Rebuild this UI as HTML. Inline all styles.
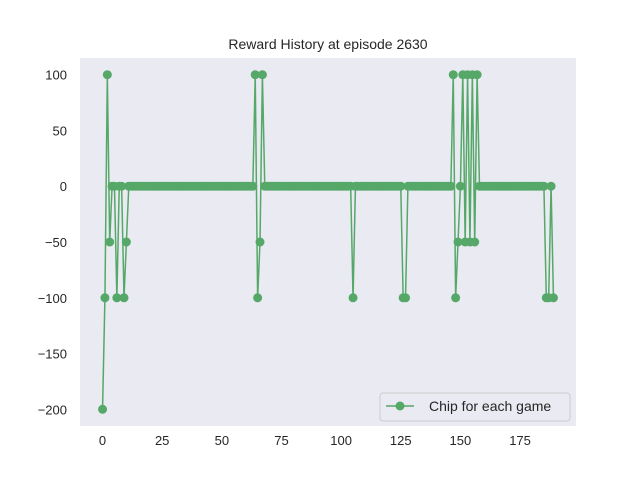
<!DOCTYPE html>
<html><head><meta charset="utf-8"><style>
body{margin:0;background:#fff;}
svg text{font-family:"Liberation Sans","DejaVu Sans",sans-serif;fill:#262626;}
</style></head><body>
<svg id="chart" width="640" height="480" viewBox="0 0 640 480">
<rect x="0" y="0" width="640" height="480" fill="#fff"/>
<rect x="80" y="58" width="496" height="368" fill="#eaeaf2"/>
<text x="328" y="49" font-size="14" text-anchor="middle">Reward History at episode 2630</text>
<g id="xticks"></g>
<g id="yticks"></g>
<g id="series"></g>
<g>
<rect x="380" y="393" width="190" height="28" rx="3" fill="#eaeaf2" stroke="#cccccc"/>
<line x1="386" y1="406" x2="414" y2="406" stroke="#55a868" stroke-width="1.5"/>
<circle cx="400" cy="406" r="4.5" fill="#55a868"/>
<text x="429" y="411" font-size="14">Chip for each game</text>
</g>
</svg>
<script>
const rewards = [-200,-100,100,-50,0,0,-100,0,0,-100,-50];
const xTickValues = [0,25,50,75,100,125,150,175];
const yTickValues = [100,50,0,-50,-100,-150,-200];
// fill remaining episodes with events
const events = {64:100,65:-100,66:-50,67:100,105:-100,126:-100,127:-100,147:100,148:-100,149:-50,151:100,152:-50,153:100,154:-50,155:100,156:-50,157:100,186:-100,187:-100,189:-100};
const nPoints = 190;
const data = [];
for (let i=0;i<nPoints;i++){ data.push(i<rewards.length?rewards[i]:(events[i]!==undefined?events[i]:0)); }

const L=80,R=576,T=58,B=426;
const xmin=-9.45,xmax=198.45,ymin=-215,ymax=115;
const X=v=>L+(v-xmin)/(xmax-xmin)*(R-L);
const Y=v=>B-(v-ymin)/(ymax-ymin)*(B-T);
const NS="http://www.w3.org/2000/svg";
function mk(tag,attrs,parent){const e=document.createElementNS(NS,tag);for(const k in attrs)e.setAttribute(k,attrs[k]);parent.appendChild(e);return e;}

const xg=document.getElementById('xticks');
xTickValues.forEach(v=>{
  const t=mk('text',{x:X(v),y:B+19,'font-size':13,'text-anchor':'middle'},xg);
  
  
  t.textContent=v;
});
const yg=document.getElementById('yticks');
yTickValues.forEach(v=>{
  const t=mk('text',{x:L-13,y:Y(v)+5,'font-size':13,'text-anchor':'end'},yg);
  
  
  t.textContent=v<0?'\u2212'+(-v):v;
});
const sg=document.getElementById('series');
const pts=data.map((v,i)=>X(i).toFixed(2)+','+Y(v).toFixed(2)).join(' ');
const pl=mk('polyline',{points:pts,fill:'none',stroke:'#55a868','stroke-width':1.5,'stroke-linejoin':'round'},sg);


data.forEach((v,i)=>{
  const c=mk('circle',{cx:X(i),cy:Y(v),r:4.5,fill:'#55a868'},sg);
  
  
});
</script>
</body></html>
